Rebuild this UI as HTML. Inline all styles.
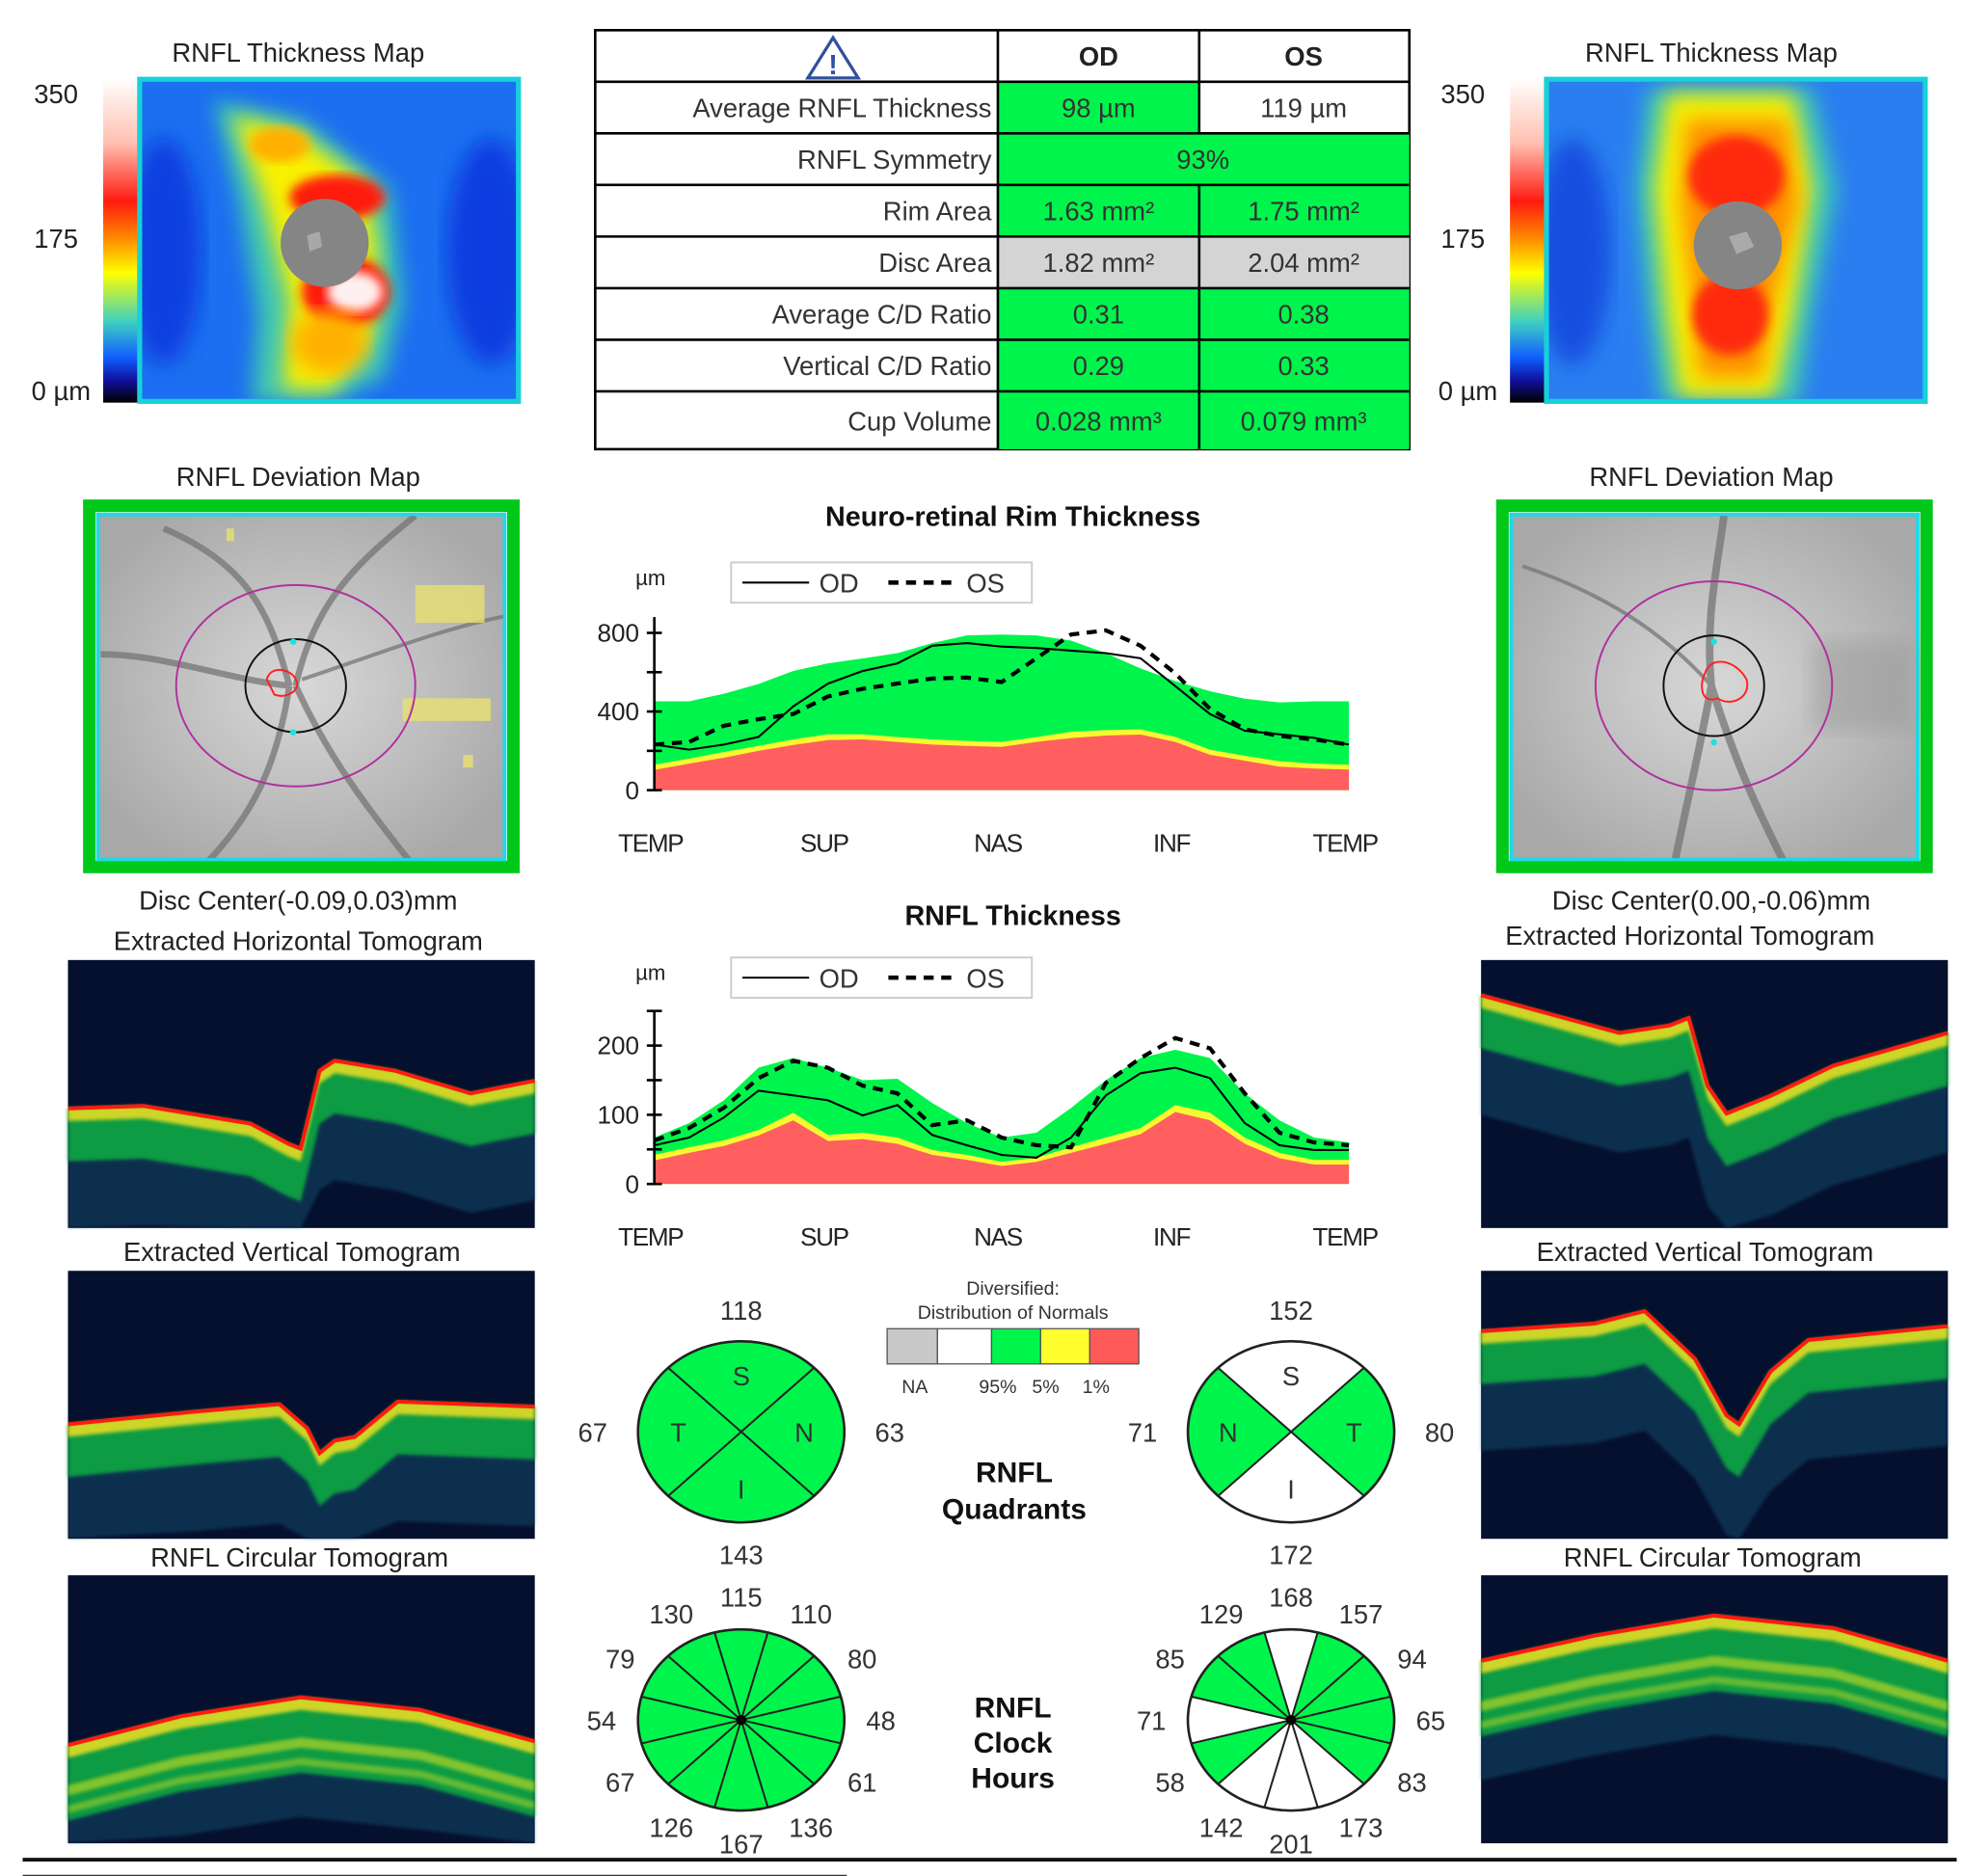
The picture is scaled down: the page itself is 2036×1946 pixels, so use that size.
<!DOCTYPE html>
<html><head><meta charset="utf-8">
<style>
html,body{margin:0;padding:0;background:#fff;}
svg{display:block;}
text{font-family:"Liberation Sans",sans-serif;}
</style></head>
<body>
<svg id="root" xmlns="http://www.w3.org/2000/svg" width="2036" height="1946" viewBox="0 0 1560 1491" preserveAspectRatio="none">
<defs>
<linearGradient id="cbar" x1="0" y1="0" x2="0" y2="1">
<stop offset="0" stop-color="#ffffff"/><stop offset="0.2" stop-color="#ffc0b0"/><stop offset="0.38" stop-color="#ff1a10"/><stop offset="0.5" stop-color="#ff9000"/><stop offset="0.6" stop-color="#ffff00"/><stop offset="0.75" stop-color="#40d0c0"/><stop offset="0.86" stop-color="#1060ff"/><stop offset="0.93" stop-color="#1010a0"/><stop offset="1" stop-color="#000000"/>
</linearGradient>
<filter id="blur8"><feGaussianBlur stdDeviation="8"/></filter>
<filter id="blur4"><feGaussianBlur stdDeviation="4"/></filter>
<filter id="blur2"><feGaussianBlur stdDeviation="1.5"/></filter>
<radialGradient id="fundus" cx="0.5" cy="0.5" r="0.6"><stop offset="0" stop-color="#d8d8d8"/><stop offset="1" stop-color="#a8a8a8"/></radialGradient>
<clipPath id="cmapL"><rect x="113" y="65" width="297" height="252"/></clipPath>
<clipPath id="cmapR"><rect x="1231" y="65" width="297" height="252"/></clipPath>
<clipPath id="cdevL"><rect x="80" y="410" width="320" height="272"/></clipPath>
<clipPath id="cdevR"><rect x="1203" y="410" width="320" height="272"/></clipPath>
</defs>

<g>
<text x="237" y="49" font-size="21" text-anchor="middle" fill="#222">RNFL Thickness Map</text>
<rect x="82" y="62" width="28" height="258" fill="url(#cbar)"/>
<text x="27" y="82" font-size="21" fill="#222">350</text>
<text x="27" y="197" font-size="21" fill="#222">175</text>
<text x="25" y="318" font-size="21" fill="#222">0 µm</text>
<rect x="111" y="63" width="301" height="256" fill="#1c6ff0" stroke="#18d0d8" stroke-width="4"/>
<g clip-path="url(#cmapL)">
<ellipse cx="130" cy="200" rx="30" ry="90" fill="#0a40e0" filter="url(#blur8)"/>
<ellipse cx="390" cy="200" rx="35" ry="90" fill="#0a3ee0" filter="url(#blur8)"/>
<path d="M170 80 L240 95 L310 150 L320 240 L305 300 L260 320 L200 320 L205 250 L190 160 Z" fill="#40c8b0" filter="url(#blur8)"/>
<path d="M185 92 L235 105 L290 145 L300 200 L295 270 L265 310 L225 310 L230 240 L210 160 Z" fill="#f8f000" filter="url(#blur8)"/>
<ellipse cx="222" cy="115" rx="24" ry="14" fill="#ffb000" filter="url(#blur4)"/>
<ellipse cx="268" cy="157" rx="38" ry="18" fill="#ff1a10" filter="url(#blur4)"/>
<ellipse cx="275" cy="232" rx="35" ry="28" fill="#ff1a10" filter="url(#blur4)"/>
<ellipse cx="282" cy="232" rx="22" ry="16" fill="#fff0f0" filter="url(#blur4)"/>
<ellipse cx="262" cy="272" rx="30" ry="25" fill="#ffb000" filter="url(#blur8)"/>
<circle cx="258" cy="193" r="35" fill="#858585"/>
<path d="M244 187 L254 184 L256 196 L246 200 Z" fill="#a8a8a8"/>
</g>
</g>
<g>
<text x="1360" y="49" font-size="21" text-anchor="middle" fill="#222">RNFL Thickness Map</text>
<rect x="1200" y="62" width="28" height="258" fill="url(#cbar)"/>
<text x="1145" y="82" font-size="21" fill="#222">350</text>
<text x="1145" y="197" font-size="21" fill="#222">175</text>
<text x="1143" y="318" font-size="21" fill="#222">0 µm</text>
<rect x="1229" y="63" width="301" height="256" fill="#2a7ef0" stroke="#18d0d8" stroke-width="4"/>
<g clip-path="url(#cmapR)">
<ellipse cx="1250" cy="200" rx="30" ry="90" fill="#1450e0" filter="url(#blur8)"/>
<path d="M1310 70 L1440 70 L1460 150 L1440 250 L1430 320 L1320 320 L1310 250 L1300 150 Z" fill="#40c8b0" filter="url(#blur8)"/>
<path d="M1325 75 L1425 75 L1440 150 L1425 250 L1410 315 L1335 315 L1325 250 L1315 150 Z" fill="#f8f000" filter="url(#blur8)"/>
<path d="M1340 95 L1420 95 L1430 160 L1410 240 L1400 300 L1350 300 L1345 240 L1335 160 Z" fill="#ff9000" filter="url(#blur8)"/>
<ellipse cx="1380" cy="140" rx="38" ry="32" fill="#ff2a10" filter="url(#blur4)"/>
<ellipse cx="1375" cy="250" rx="30" ry="32" fill="#ff2a10" filter="url(#blur4)"/>
<circle cx="1381" cy="195" r="35" fill="#858585"/>
<path d="M1374 188 L1388 184 L1394 196 L1380 202 Z" fill="#aaaaaa"/>
</g>
</g>

<g font-size="21" fill="#333">
<rect x="473" y="24" width="647" height="333" fill="#fff" stroke="#000" stroke-width="2"/>
<rect x="793" y="65" width="160" height="41" fill="#00f54c"/>
<rect x="793" y="106" width="327" height="41" fill="#00f54c"/>
<rect x="793" y="147" width="327" height="41" fill="#00f54c"/>
<rect x="793" y="188" width="327" height="41" fill="#d4d4d4"/>
<rect x="793" y="229" width="327" height="128" fill="#00f54c"/>
<g stroke="#000" stroke-width="2">
<line x1="473" y1="65" x2="1120" y2="65"/><line x1="473" y1="106" x2="1120" y2="106"/><line x1="473" y1="147" x2="1120" y2="147"/><line x1="473" y1="188" x2="1120" y2="188"/><line x1="473" y1="229" x2="1120" y2="229"/><line x1="473" y1="270" x2="1120" y2="270"/><line x1="473" y1="311" x2="1120" y2="311"/>
<line x1="793" y1="24" x2="793" y2="357"/><line x1="953" y1="24" x2="953" y2="106"/><line x1="953" y1="147" x2="953" y2="357"/>
</g>
<g><path d="M662 30 L682 62 L642 62 Z" fill="#fff" stroke="#3050a0" stroke-width="2.5"/><text x="662" y="59" font-size="22" font-weight="bold" text-anchor="middle" fill="#3050a0">!</text></g>
<text x="873" y="52" font-weight="bold" text-anchor="middle" fill="#222">OD</text>
<text x="1036" y="52" font-weight="bold" text-anchor="middle" fill="#222">OS</text>
<g text-anchor="end">
<text x="788" y="93">Average RNFL Thickness</text>
<text x="788" y="134">RNFL Symmetry</text>
<text x="788" y="175">Rim Area</text>
<text x="788" y="216">Disc Area</text>
<text x="788" y="257">Average C/D Ratio</text>
<text x="788" y="298">Vertical C/D Ratio</text>
<text x="788" y="342">Cup Volume</text>
</g>
<g text-anchor="middle">
<text x="873" y="93">98 µm</text><text x="1036" y="93">119 µm</text>
<text x="956" y="134">93%</text>
<text x="873" y="175">1.63 mm²</text><text x="1036" y="175">1.75 mm²</text>
<text x="873" y="216">1.82 mm²</text><text x="1036" y="216">2.04 mm²</text>
<text x="873" y="257">0.31</text><text x="1036" y="257">0.38</text>
<text x="873" y="298">0.29</text><text x="1036" y="298">0.33</text>
<text x="873" y="342">0.028 mm³</text><text x="1036" y="342">0.079 mm³</text>
</g>
</g>

<g>
<text x="237" y="386" font-size="21" text-anchor="middle" fill="#222">RNFL Deviation Map</text>
<rect x="71" y="402" width="337" height="287" fill="none" stroke="#00c81a" stroke-width="10"/>
<rect x="78" y="409" width="323" height="274" fill="url(#fundus)" stroke="#20d8e8" stroke-width="3"/>
<g clip-path="url(#cdevL)" fill="none" stroke="#707070" stroke-width="5" opacity="0.7">
<path d="M230 545 C215 490 200 450 130 420"/><path d="M235 545 C250 480 280 450 330 410"/><path d="M230 545 C220 610 200 650 160 690"/><path d="M235 545 C260 600 290 640 330 690"/><path d="M230 545 C180 540 130 520 80 520"/>
<path d="M240 540 C300 520 350 500 400 490" stroke-width="3"/>
</g>
<g fill="#e8e070" opacity="0.8"><rect x="330" y="465" width="55" height="30"/><rect x="320" y="555" width="70" height="18"/><rect x="180" y="420" width="6" height="10"/><rect x="368" y="600" width="8" height="10"/></g>
<ellipse cx="235" cy="545" rx="95" ry="80" fill="none" stroke="#b030a0" stroke-width="1.5"/>
<ellipse cx="235" cy="545" rx="40" ry="37" fill="none" stroke="#111" stroke-width="1.5"/>
<path d="M212 540 C215 528 232 532 235 540 C240 548 228 556 218 552 Z" fill="none" stroke="#ff2020" stroke-width="1.5"/>
<circle cx="233" cy="510" r="2.5" fill="#20e0e0"/><circle cx="233" cy="582" r="2.5" fill="#20e0e0"/>
</g>
<g>
<text x="1360" y="386" font-size="21" text-anchor="middle" fill="#222">RNFL Deviation Map</text>
<rect x="1194" y="402" width="337" height="287" fill="none" stroke="#00c81a" stroke-width="10"/>
<rect x="1201" y="409" width="323" height="274" fill="url(#fundus)" stroke="#20d8e8" stroke-width="3"/>
<g clip-path="url(#cdevR)" fill="none" stroke="#707070" stroke-width="6" opacity="0.7">
<path d="M1360 545 C1355 490 1365 450 1370 410"/><path d="M1360 545 C1350 600 1340 640 1330 690"/><path d="M1360 545 C1380 610 1400 650 1420 690"/><path d="M1360 545 C1320 500 1270 470 1210 450" stroke-width="3"/>
</g>
<rect x="1440" y="510" width="80" height="70" fill="#909090" opacity="0.4" filter="url(#blur8)"/>
<ellipse cx="1362" cy="545" rx="94" ry="83" fill="none" stroke="#b030a0" stroke-width="1.5"/>
<ellipse cx="1362" cy="545" rx="40" ry="40" fill="none" stroke="#111" stroke-width="1.5"/>
<path d="M1355 535 C1360 520 1380 525 1388 540 C1392 555 1375 562 1365 555 C1352 560 1350 545 1355 535 Z" fill="none" stroke="#ff2020" stroke-width="1.5"/>
<circle cx="1362" cy="510" r="2.5" fill="#20e0e0"/><circle cx="1362" cy="590" r="2.5" fill="#20e0e0"/>
</g>

<g font-size="21" fill="#222" text-anchor="middle">
<text x="237" y="723">Disc Center(-0.09,0.03)mm</text>
<text x="237" y="755">Extracted Horizontal Tomogram</text>
<text x="232" y="1002">Extracted Vertical Tomogram</text>
<text x="238" y="1245">RNFL Circular Tomogram</text>
<text x="1360" y="723">Disc Center(0.00,-0.06)mm</text>
<text x="1343" y="751">Extracted Horizontal Tomogram</text>
<text x="1355" y="1002">Extracted Vertical Tomogram</text>
<text x="1361" y="1245">RNFL Circular Tomogram</text>
</g>
<g id="tomos"></g>

<text x="805" y="418" font-size="22" font-weight="bold" text-anchor="middle" fill="#111">Neuro-retinal Rim Thickness</text>
<text x="805" y="735" font-size="22" font-weight="bold" text-anchor="middle" fill="#111">RNFL Thickness</text>
<g id="rimChart"></g>
<g id="rnflChart"></g>

<g>
<text x="805" y="1029" font-size="15" text-anchor="middle" fill="#333">Diversified:</text>
<text x="805" y="1048" font-size="15" text-anchor="middle" fill="#333">Distribution of Normals</text>
<rect x="705" y="1056" width="40" height="28" fill="#c8c8c8" stroke="#555"/>
<rect x="745" y="1056" width="43" height="28" fill="#fff" stroke="#555"/>
<rect x="788" y="1056" width="39" height="28" fill="#00f54c" stroke="#555"/>
<rect x="827" y="1056" width="39" height="28" fill="#ffff30" stroke="#555"/>
<rect x="866" y="1056" width="39" height="28" fill="#ff5a5a" stroke="#555"/>
<g font-size="15" fill="#333" text-anchor="middle"><text x="727" y="1107">NA</text><text x="793" y="1107">95%</text><text x="831" y="1107">5%</text><text x="871" y="1107">1%</text></g>
</g>
<g font-size="23" font-weight="bold" text-anchor="middle" fill="#111">
<text x="806" y="1178">RNFL</text><text x="806" y="1207">Quadrants</text>
<text x="805" y="1365">RNFL</text><text x="805" y="1393">Clock</text><text x="805" y="1421">Hours</text>
</g>
<g id="pies"></g>

<line x1="18" y1="1478" x2="1555" y2="1478" stroke="#111" stroke-width="3"/>
<line x1="18" y1="1491" x2="673" y2="1491" stroke="#333" stroke-width="2"/>
</svg>

<script>
const xLabels = ["TEMP","SUP","NAS","INF","TEMP"];
const rimTicks = [0,400,800];
const rimGreen = [452,452,490,540,606,645,670,697,748,787,792,787,761,697,619,555,503,465,446,452,452];
const rimYellow = [129,160,194,225,258,284,284,270,258,250,245,270,297,305,310,271,206,175,147,135,129];
const rimRed = [103,135,165,200,230,255,258,245,232,225,220,245,265,278,283,245,180,150,120,110,105];
const rimOD = [232,206,232,271,426,542,606,645,735,748,730,723,710,697,671,529,387,302,284,266,232];
const rimOS = [232,245,328,361,387,477,516,542,568,573,550,671,792,813,735,594,413,310,276,258,232];
const rnflTicks = [0,100,200];
const rnflGreen = [67,88,121,168,182,168,150,152,117,88,67,74,110,150,182,194,182,131,92,67,60];
const rnflYellow = [42,53,63,78,103,71,74,67,49,42,32,38,53,67,81,114,103,67,45,35,35];
const rnflRed = [34,45,55,70,92,62,65,58,42,35,26,32,45,58,72,104,92,58,37,28,28];
const rnflOD = [56,67,96,135,128,121,99,114,71,56,42,38,67,128,160,168,153,88,56,49,49];
const rnflOS = [63,81,110,153,178,168,142,131,85,92,67,56,53,146,182,211,196,131,74,60,56];
const quadOD = [118,63,143,67];
const quadOS = [152,80,172,71];
const quadLettersOD = ["S","N","I","T"];
const quadLettersOS = ["S","T","I","N"];
const quadFillOD = ["g","g","g","g"];
const quadFillOS = ["w","g","w","g"];
const clockOD = [115,110,80,48,61,136,167,126,67,54,79,130];
const clockOS = [168,157,94,65,83,173,201,142,58,71,85,129];
const clockFillOD = ["g","g","g","g","g","g","g","g","g","g","g","g"];
const clockFillOS = ["w","g","g","g","g","w","w","w","g","w","g","g"];

const NS="http://www.w3.org/2000/svg";
function mk(tag,attrs,parent){const e=document.createElementNS(NS,tag);for(const k in attrs)e.setAttribute(k,attrs[k]);parent.appendChild(e);return e;}

function drawChart(g, cfg){
  const x0=520,x1=1072;
  const xs=i=>x0+(x1-x0)*i/(cfg.green.length-1);
  const ys=v=>cfg.yBase-v*cfg.k;
  function area(arr,color,name){
    let d="M"+xs(0)+" "+ys(0);
    arr.forEach((v,i)=>{d+=" L"+xs(i).toFixed(1)+" "+ys(v).toFixed(1);});
    d+=" L"+xs(arr.length-1)+" "+ys(0)+" Z";
    const p=mk("path",{d:d,fill:color},g);
    
    
  }
  area(cfg.green,"#00f54c","band-95");
  area(cfg.yellow,"#f8f830","band-5");
  area(cfg.red,"#ff5f5f","band-1");
  function line(arr,dash,name){
    let d="";arr.forEach((v,i)=>{d+=(i?" L":"M")+xs(i).toFixed(1)+" "+ys(v).toFixed(1);});
    const p=mk("path",{d:d,fill:"none",stroke:"#000","stroke-width":dash?3.2:1.6},g);
    if(dash)p.setAttribute("stroke-dasharray","8 6");
    
    
  }
  line(cfg.od,false,"od-line");
  line(cfg.os,true,"os-line");
  const ax=mk("line",{x1:x0,y1:ys(0),x2:x0,y2:ys(cfg.axisTop),stroke:"#000","stroke-width":2},g);
  
  
  for(let v=0;v<=cfg.axisTop;v+=cfg.minor){
    const t=mk("line",{x1:x0-6,y1:ys(v),x2:x0+6,y2:ys(v),stroke:"#000","stroke-width":2},g);
    
    
  }
  cfg.ticks.forEach(v=>{
    const t=mk("text",{x:x0-12,y:ys(v)+7,"font-size":20,"text-anchor":"end",fill:"#222"},g);
    t.textContent=v;
    
    
  });
  const u=mk("text",{x:517,y:cfg.legY+18,"font-size":17,"text-anchor":"middle",fill:"#222"},g);
  u.textContent="µm";
  
  
  xLabels.forEach((s,i)=>{
    const t=mk("text",{x:517+138*i,y:cfg.xLabY,"font-size":20,"text-anchor":"middle",fill:"#222","letter-spacing":"-1"},g);
    t.textContent=s;
    
    
  });
  const lg=mk("g",{},g);
  
  
  mk("rect",{x:581,y:cfg.legY,width:239,height:32,fill:"#fff",stroke:"#ccc","stroke-width":1.5},lg);
  mk("line",{x1:590,y1:cfg.legY+16,x2:643,y2:cfg.legY+16,stroke:"#000","stroke-width":1.6},lg);
  const t1=mk("text",{x:651,y:cfg.legY+24,"font-size":21,fill:"#333"},lg);t1.textContent="OD";
  mk("line",{x1:706,y1:cfg.legY+16,x2:756,y2:cfg.legY+16,stroke:"#000","stroke-width":3.5,"stroke-dasharray":"8 6"},lg);
  const t2=mk("text",{x:768,y:cfg.legY+24,"font-size":21,fill:"#333"},lg);t2.textContent="OS";
}
drawChart(document.getElementById("rimChart"),{green:rimGreen,yellow:rimYellow,red:rimRed,od:rimOD,os:rimOS,yBase:628,k:125/800,axisTop:880,minor:200,ticks:rimTicks,legY:447,xLabY:677});
drawChart(document.getElementById("rnflChart"),{green:rnflGreen,yellow:rnflYellow,red:rnflRed,od:rnflOD,os:rnflOS,yBase:941,k:110/200,axisTop:250,minor:50,ticks:rnflTicks,legY:761,xLabY:990});

const pies=document.getElementById("pies");
const RX=82,RY=72;
function pt(cx,cy,a,sx,sy){return [cx+sx*Math.sin(a*Math.PI/180), cy-sy*Math.cos(a*Math.PI/180)];}
function sector(g,cx,cy,a0,a1,fill){
  const p0=pt(cx,cy,a0,RX,RY),p1=pt(cx,cy,a1,RX,RY);
  const d=`M${cx} ${cy} L${p0[0].toFixed(1)} ${p0[1].toFixed(1)} A${RX} ${RY} 0 0 1 ${p1[0].toFixed(1)} ${p1[1].toFixed(1)} Z`;
  return mk("path",{d:d,fill:fill==="g"?"#00f54c":"#fff",stroke:"#222","stroke-width":1.5},g);
}
function quadPie(cx,cy,vals,letters,fills,name){
  const g=mk("g",{},pies);
  
  
  for(let i=0;i<4;i++){
    const s=sector(g,cx,cy,i*90-45,i*90+45,fills[i]);
    
    
    const lp=pt(cx,cy,i*90,50,45);
    const lt=mk("text",{x:lp[0],y:lp[1]+8,"font-size":21,"text-anchor":"middle",fill:"#333"},g);lt.textContent=letters[i];
    const vp=pt(cx,cy,i*90,118,97);
    const vt=mk("text",{x:vp[0],y:vp[1]+8,"font-size":21,"text-anchor":"middle",fill:"#333"},g);vt.textContent=vals[i];
    
    
  }
  mk("ellipse",{cx:cx,cy:cy,rx:RX,ry:RY,fill:"none",stroke:"#222","stroke-width":2},g);
}
quadPie(589,1138,quadOD,quadLettersOD,quadFillOD,"quadrants-od");
quadPie(1026,1138,quadOS,quadLettersOS,quadFillOS,"quadrants-os");
function clockPie(cx,cy,vals,fills,name){
  const g=mk("g",{},pies);
  
  
  for(let i=0;i<12;i++){
    const s=sector(g,cx,cy,i*30-15,i*30+15,fills[i]);
    
    
    const vp=pt(cx,cy,i*30,111,98);
    const vt=mk("text",{x:vp[0],y:vp[1]+8,"font-size":21,"text-anchor":"middle",fill:"#333"},g);vt.textContent=vals[i];
    
    
  }
  mk("ellipse",{cx:cx,cy:cy,rx:RX,ry:RY,fill:"none",stroke:"#222","stroke-width":2},g);
  mk("circle",{cx:cx,cy:cy,r:4,fill:"#000"},g);
}
clockPie(589,1367,clockOD,clockFillOD,"clock-hours-od");
clockPie(1026,1367,clockOS,clockFillOS,"clock-hours-os");

const tg=document.getElementById("tomos");
function tomo(x,y,surf,name,layers){
  const g=mk("g",{},tg);
  
  
  mk("rect",{x:x,y:y,width:371,height:213,fill:"#05102e"},g);
  const band=(off0,off1,color,op,blur)=>{
    let d="";surf.forEach((p,i)=>{d+=(i?" L":"M")+(x+p[0])+" "+(y+p[1]+off0);});
    for(let i=surf.length-1;i>=0;i--){d+=" L"+(x+surf[i][0])+" "+Math.min(y+213,y+surf[i][1]+off1);}
    d+=" Z";
    const e=mk("path",{d:d,fill:color,opacity:op},g);
    if(blur)e.setAttribute("filter","url(#blur2)");
  };
  band(0,95,"#1a6a8a",0.35,true);
  band(0,layers?60:42,"#10c040",0.75,true);
  if(layers){band(32,40,"#d0e020",0.6,true);band(48,54,"#d0e020",0.45,true);}
  band(0,10,"#f0e020",0.85,true);
  let d="";surf.forEach((p,i)=>{d+=(i?" L":"M")+(x+p[0])+" "+(y+p[1]);});
  mk("path",{d:d,fill:"none",stroke:"#ff1a10","stroke-width":3},g);
}
tomo(54,763,[[0,118],[60,116],[145,130],[175,146],[185,150],[200,88],[212,80],[260,88],[320,106],[371,96]],"horizontal-tomogram-od");
tomo(54,1010,[[0,122],[100,112],[168,106],[190,125],[200,145],[212,135],[228,132],[262,104],[371,108]],"vertical-tomogram-od");
tomo(54,1252,[[0,135],[90,112],[185,97],[280,107],[371,132]],"circular-tomogram-od",true);
tomo(1177,763,[[0,28],[110,58],[150,52],[165,46],[180,100],[195,122],[230,108],[280,84],[371,58]],"horizontal-tomogram-os");
tomo(1177,1010,[[0,48],[90,42],[130,32],[170,70],[195,115],[205,122],[230,80],[260,55],[371,44]],"vertical-tomogram-os");
tomo(1177,1252,[[0,68],[90,48],[185,32],[280,42],[371,68]],"circular-tomogram-os",true);
</script>
</body></html>
